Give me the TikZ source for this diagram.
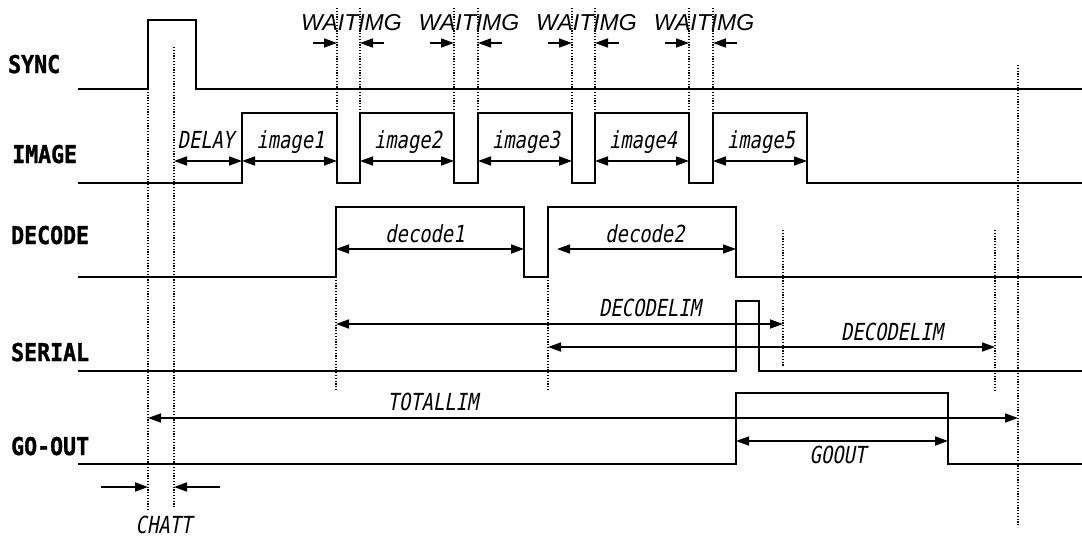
\documentclass[tikz,border=0pt]{standalone}
\usepackage{fontspec}
\usetikzlibrary{arrows.meta}
\newfontfamily\sigfont[FakeStretch=0.88,FakeBold=1.2]{DejaVu Sans Mono}
\newfontfamily\lblfont[FakeStretch=0.8,FakeSlant=0.18]{DejaVu Sans Mono}
\newfontfamily\waitfont{Liberation Sans}
\tikzset{
  wave/.style={line width=2pt},
  guide/.style={line width=1.2pt,dash pattern=on 1.2pt off 1.6pt},
  dim/.style={line width=1.6pt,{Triangle[length=13pt,width=9pt]}-{Triangle[length=13pt,width=9pt]}},
  tip/.style={line width=1.6pt,-{Triangle[length=13pt,width=9pt]}},
  signame/.style={anchor=base west,inner sep=0pt,font=\sigfont\bfseries\fontsize{24.5}{24.5}\selectfont},
  dimlabel/.style={anchor=base,inner sep=0pt,font=\lblfont\fontsize{23.5}{23.5}\selectfont},
  waitlabel/.style={anchor=base,inner sep=0pt,font=\waitfont\itshape\fontsize{23}{23}\selectfont}
}
\begin{document}
\begin{tikzpicture}[x=1pt,y=-1pt]
    \useasboundingbox (0,0) rectangle (1082,539);
    % signal names
    \node[signame] (sync)   at (8,73)   {SYNC};
    \node[signame] (image)  at (12,163) {IMAGE};
    \node[signame] (decode) at (11,244) {DECODE};
    \node[signame] (serial) at (11,361) {SERIAL};
    \node[signame] (goout)  at (11,455) {GO-OUT};
    % waveforms
    \draw[wave] (78,89) -- (148,89) -- (148,20) -- (196,20) -- (196,89) -- (1082,89);
    \draw[wave] (78,183) -- (242,183) -- (242,113) -- (337,113) -- (337,183) -- (360,183)
        -- (360,113) -- (454,113) -- (454,183) -- (478,183) -- (478,113) -- (572,113)
        -- (572,183) -- (595,183) -- (595,113) -- (689,113) -- (689,183) -- (713,183)
        -- (713,113) -- (807,113) -- (807,183) -- (1082,183);
    \draw[wave] (78,277) -- (336,277) -- (336,207) -- (524,207) -- (524,277) -- (548,277)
        -- (548,207) -- (736,207) -- (736,277) -- (1082,277);
    \draw[wave] (78,371) -- (736,371) -- (736,301) -- (759,301) -- (759,371) -- (1082,371);
    \draw[wave] (78,464) -- (736,464) -- (736,393) -- (948,393) -- (948,464) -- (1082,464);
    % guide lines
    \draw[guide] (148,89) -- (148,511);
    \draw[guide] (174,47) -- (174,508);
    \draw[guide] (336,277) -- (336,391);
    \draw[guide] (548,277) -- (548,391);
    \draw[guide] (783,230) -- (783,367);
    \draw[guide] (995,230) -- (995,391);
    \draw[guide] (1018,65) -- (1018,527);
    % wait times between images
    \foreach \a/\b in {337/360,454/478,572/595,689/713} {
        \draw[guide] (\a,8) -- (\a,113);
        \draw[guide] (\b,8) -- (\b,113);
        \draw[tip] (\a-24,43) -- (\a,43);
        \draw[tip] (\b+24,43) -- (\b,43);
        \node[waitlabel] (wait\a) at ({(\a+\b)/2+3},30) {WAITIMG};
    }
    % image periods
    \draw[dim] (174,161) -- (242,161);
    \node[dimlabel] (delay) at (206,148) {DELAY};
    \foreach \a/\b/\n in {242/337/1,360/454/2,478/572/3,595/689/4,713/807/5} {
        \draw[dim] (\a,161) -- (\b,161);
        \node[dimlabel] (img\n) at ({(\a+\b)/2+1},148) {image\n};
    }
    % decode periods
    \draw[dim] (336,249) -- (524,249);
    \node[dimlabel] (dec1) at (425,242) {decode1};
    \draw[dim] (557,249) -- (736,249);
    \node[dimlabel] (dec2) at (645,242) {decode2};
    \draw[dim] (336,324) -- (783,324);
    \node[dimlabel] (declim1) at (650,316) {DECODELIM};
    \draw[dim] (548,347) -- (995,347);
    \node[dimlabel] (declim2) at (892,340) {DECODELIM};
    % output
    \draw[dim] (148,418) -- (1018,418);
    \node[dimlabel] (total) at (433,410) {TOTALLIM};
    \draw[dim] (736,441) -- (948,441);
    \node[dimlabel] (gooutlim) at (838,463) {GOOUT};
    % chattering
    \draw[tip] (101,487) -- (148,487);
    \draw[tip] (220,487) -- (174,487);
    \node[dimlabel] (chatt) at (164,533) {CHATT};
\end{tikzpicture}
\end{document}
